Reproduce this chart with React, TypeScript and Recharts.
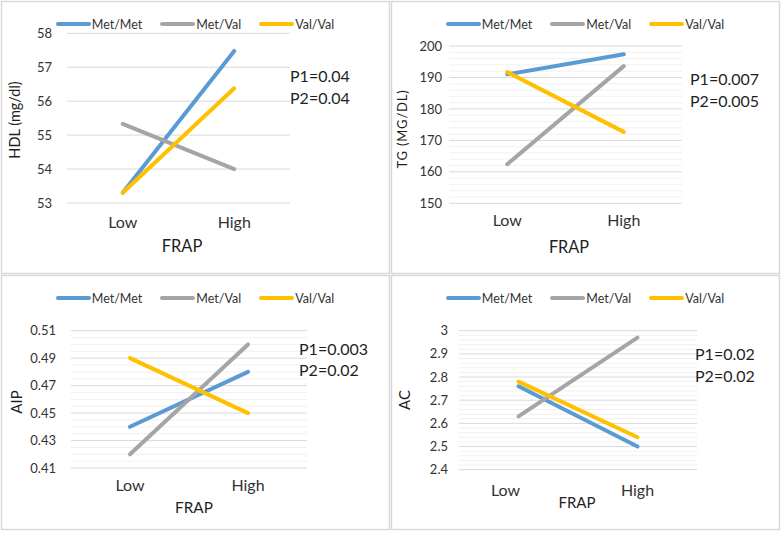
import { CartesianGrid, Line, LineChart, XAxis, YAxis } from "recharts";

const categories = ["Low", "High"];
const seriesNames = ["Met/Met", "Met/Val", "Val/Val"];
const seriesColors = ["#5B9BD5", "#A5A5A5", "#FFC000"];

// HDL (mg/dl)
const hdlMetMet = [53.3, 57.48];
const hdlMetVal = [55.33, 54.0];
const hdlValVal = [53.3, 56.38];
const hdlTicks = [53, 54, 55, 56, 57, 58];

// TG
const tgMetMet = [191.0, 197.4];
const tgMetVal = [162.4, 193.6];
const tgValVal = [191.7, 172.7];
const tgTicks = [150, 160, 170, 180, 190, 200];

// AIP
const aipMetMet = [0.44, 0.48];
const aipMetVal = [0.42, 0.5];
const aipValVal = [0.49, 0.45];
const aipTicks = [0.41, 0.43, 0.45, 0.47, 0.49, 0.51];

// AC
const acMetMet = [2.76, 2.5];
const acMetVal = [2.63, 2.97];
const acValVal = [2.78, 2.54];
const acTicks = [2.4, 2.5, 2.6, 2.7, 2.8, 2.9, 3];

const FONT = "Lato, 'Open Sans', sans-serif";
const TEXT = "#333333";
const TITLE = "#1f1f1f";
const GRID = "#d9d9d9";
const MINOR = "#f0f0f0";

// minor gridlines sit between the major ticks
function minorLines(major: number[], parts: number) {
  const out: number[] = [];
  for (let i = 0; i < major.length - 1; i++) {
    const step = (major[i + 1] - major[i]) / parts;
    for (let k = 1; k < parts; k++) out.push(+(major[i] + step * k).toFixed(4));
  }
  return out;
}

type PanelDef = {
  values: number[][];
  ticks: number[];
  minorParts: number;
  yTitle: string;
  pLines: string[];
  box: [number, number, number, number];
  plot: [number, number, number, number];
  tickGap: number;
  xTickGap: number;
  lowShift: number;
  legendY: number;
  yTitlePos: [number, number, number];
  yTitleSpacing?: number;
  frapPos: [number, number, number];
  pPos: [number, number, number];
};

const panels: PanelDef[] = [
  {
    values: [hdlMetMet, hdlMetVal, hdlValVal],
    ticks: hdlTicks,
    minorParts: 1,
    yTitle: "HDL (mg/dl)",
    pLines: ["P1=0.04", "P2=0.04"],
    box: [0, 0, 390, 274],
    plot: [67, 33.3, 290, 203],
    tickGap: 15,
    xTickGap: 13.6,
    lowShift: 0,
    legendY: 24,
    yTitlePos: [20, 120, 14.5],
    frapPos: [182, 252, 16.5],
    pPos: [290, 82, 16],
  },
  {
    values: [tgMetMet, tgMetVal, tgValVal],
    ticks: tgTicks,
    minorParts: 5,
    yTitle: "TG (MG/DL)",
    pLines: ["P1=0.007", "P2=0.005"],
    box: [390, 0, 390, 274],
    plot: [449, 46, 682, 203.3],
    tickGap: 7,
    xTickGap: 11,
    lowShift: 0,
    legendY: 24,
    yTitlePos: [407, 129, 13],
    yTitleSpacing: 0.8,
    frapPos: [569, 253, 16.3],
    pPos: [690, 85, 16],
  },
  {
    values: [aipMetMet, aipMetVal, aipValVal],
    ticks: aipTicks,
    minorParts: 4,
    yTitle: "AIP",
    pLines: ["P1=0.003", "P2=0.02"],
    box: [0, 274, 390, 256],
    plot: [71, 330.7, 307, 468],
    tickGap: 15,
    xTickGap: 11.3,
    lowShift: 0,
    legendY: 298,
    yTitlePos: [21.5, 402, 15],
    frapPos: [194, 513, 15.3],
    pPos: [299, 354.7, 16],
  },
  {
    values: [acMetMet, acMetVal, acValVal],
    ticks: acTicks,
    minorParts: 5,
    yTitle: "AC",
    pLines: ["P1=0.02", "P2=0.02"],
    box: [390, 274, 390, 256],
    plot: [459, 330.7, 697, 469.7],
    tickGap: 11,
    xTickGap: 15.2,
    lowShift: -13,
    legendY: 298,
    yTitlePos: [410, 400, 15],
    frapPos: [577, 508, 15],
    pPos: [695, 360.3, 16],
  },
];

const X_AXIS_H = 40;

function Legend({ box, y }: { box: PanelDef["box"]; y: number }) {
  return (
    <div
      style={{
        position: "absolute",
        left: box[0],
        width: box[2],
        top: y - 9,
        height: 18,
        display: "flex",
        justifyContent: "center",
        alignItems: "center",
        gap: 18,
        fontFamily: FONT,
        fontSize: 12.5,
        color: TEXT,
      }}
    >
      {seriesNames.map((name, i) => (
        <div key={name} style={{ display: "flex", alignItems: "center" }}>
          <span
            style={{
              display: "inline-block",
              width: 35,
              height: 4,
              borderRadius: 2,
              background: seriesColors[i],
            }}
          />
          <span style={{ marginLeft: 1 }}>{name}</span>
        </div>
      ))}
    </div>
  );
}

function Panel({ p }: { p: PanelDef }) {
  const [bx, by, bw, bh] = p.box;
  const [l, t, r, b] = p.plot;
  const rows = categories.map((c, i) => {
    const row: Record<string, string | number> = { frap: c };
    seriesNames.forEach((s, k) => (row[s] = p.values[k][i]));
    return row;
  });
  const quarter = (r - l) / 4;
  const minor = p.minorParts > 1 ? minorLines(p.ticks, p.minorParts) : [];
  const renderTick = (props: any) => {
    const { x, y, payload, index } = props;
    return (
      <text
        x={x + (index === 0 ? p.lowShift : 0)}
        y={y}
        dy="0.71em"
        textAnchor="middle"
        fontSize={16}
        fill={TEXT}
        fontFamily={FONT}
      >
        {payload.value}
      </text>
    );
  };
  return (
    <div style={{ position: "absolute", left: bx, top: by }}>
      <LineChart
        width={bw}
        height={bh}
        data={rows}
        margin={{ top: t - by, right: bx + bw - r, bottom: by + bh - b - X_AXIS_H, left: 0 }}
      >
        {minor.length > 0 && (
          <CartesianGrid vertical={false} horizontalValues={minor} stroke={MINOR} strokeWidth={1} />
        )}
        <CartesianGrid vertical={false} horizontalValues={p.ticks} stroke={GRID} strokeWidth={1} />
        <XAxis
          dataKey="frap"
          height={X_AXIS_H}
          axisLine={false}
          tickLine={false}
          tickSize={0}
          tickMargin={p.xTickGap}
          padding={{ left: quarter, right: quarter }}
          tick={renderTick}
        />
        <YAxis
          width={l - bx}
          domain={[p.ticks[0], p.ticks[p.ticks.length - 1]]}
          ticks={p.ticks}
          interval={0}
          axisLine={false}
          tickLine={false}
          tickSize={0}
          tickMargin={p.tickGap}
          tick={{ fontSize: 13, fill: TEXT, fontFamily: FONT }}
        />
        {seriesNames.map((s, k) => (
          <Line
            key={s}
            dataKey={s}
            stroke={seriesColors[k]}
            strokeWidth={4}
            strokeLinecap="round"
            dot={false}
            activeDot={false}
            isAnimationActive={false}
          />
        ))}
      </LineChart>
      <div style={{ position: "absolute", left: -bx, top: -by }}>
        <Legend box={p.box} y={p.legendY} />
      </div>
    </div>
  );
}

export default function App() {
  return (
    <div
      style={{
        position: "absolute",
        left: 0,
        top: 0,
        width: 784,
        height: 536,
        background: "#fff",
        overflow: "hidden",
      }}
    >
      {panels.map((p, i) => (
        <Panel key={i} p={p} />
      ))}
      <svg
        width={784}
        height={536}
        style={{ position: "absolute", left: 0, top: 0, pointerEvents: "none" }}
        fontFamily={FONT}
      >
        {panels.map((p, i) => (
          <g key={i}>
            <rect
              x={p.box[0] + 1.5}
              y={p.box[1] + 1.5}
              width={p.box[2] - 2}
              height={p.box[3] - 2}
              fill="none"
              stroke={GRID}
              strokeWidth={1.5}
            />
            <text
              x={p.yTitlePos[0]}
              y={p.yTitlePos[1]}
              fontSize={p.yTitlePos[2]}
              fill={TITLE}
              textAnchor="middle"
              letterSpacing={p.yTitleSpacing ?? 0}
              transform={`rotate(-90 ${p.yTitlePos[0]} ${p.yTitlePos[1]})`}
            >
              {p.yTitle}
            </text>
            <text x={p.frapPos[0]} y={p.frapPos[1]} fontSize={p.frapPos[2]} fill={TITLE} textAnchor="middle">
              FRAP
            </text>
            {p.pLines.map((line, k) => (
              <text key={line + k} x={p.pPos[0]} y={p.pPos[1] + k * 21.7} fontSize={p.pPos[2]} fill={TITLE}>
                {line}
              </text>
            ))}
          </g>
        ))}
      </svg>
    </div>
  );
}
